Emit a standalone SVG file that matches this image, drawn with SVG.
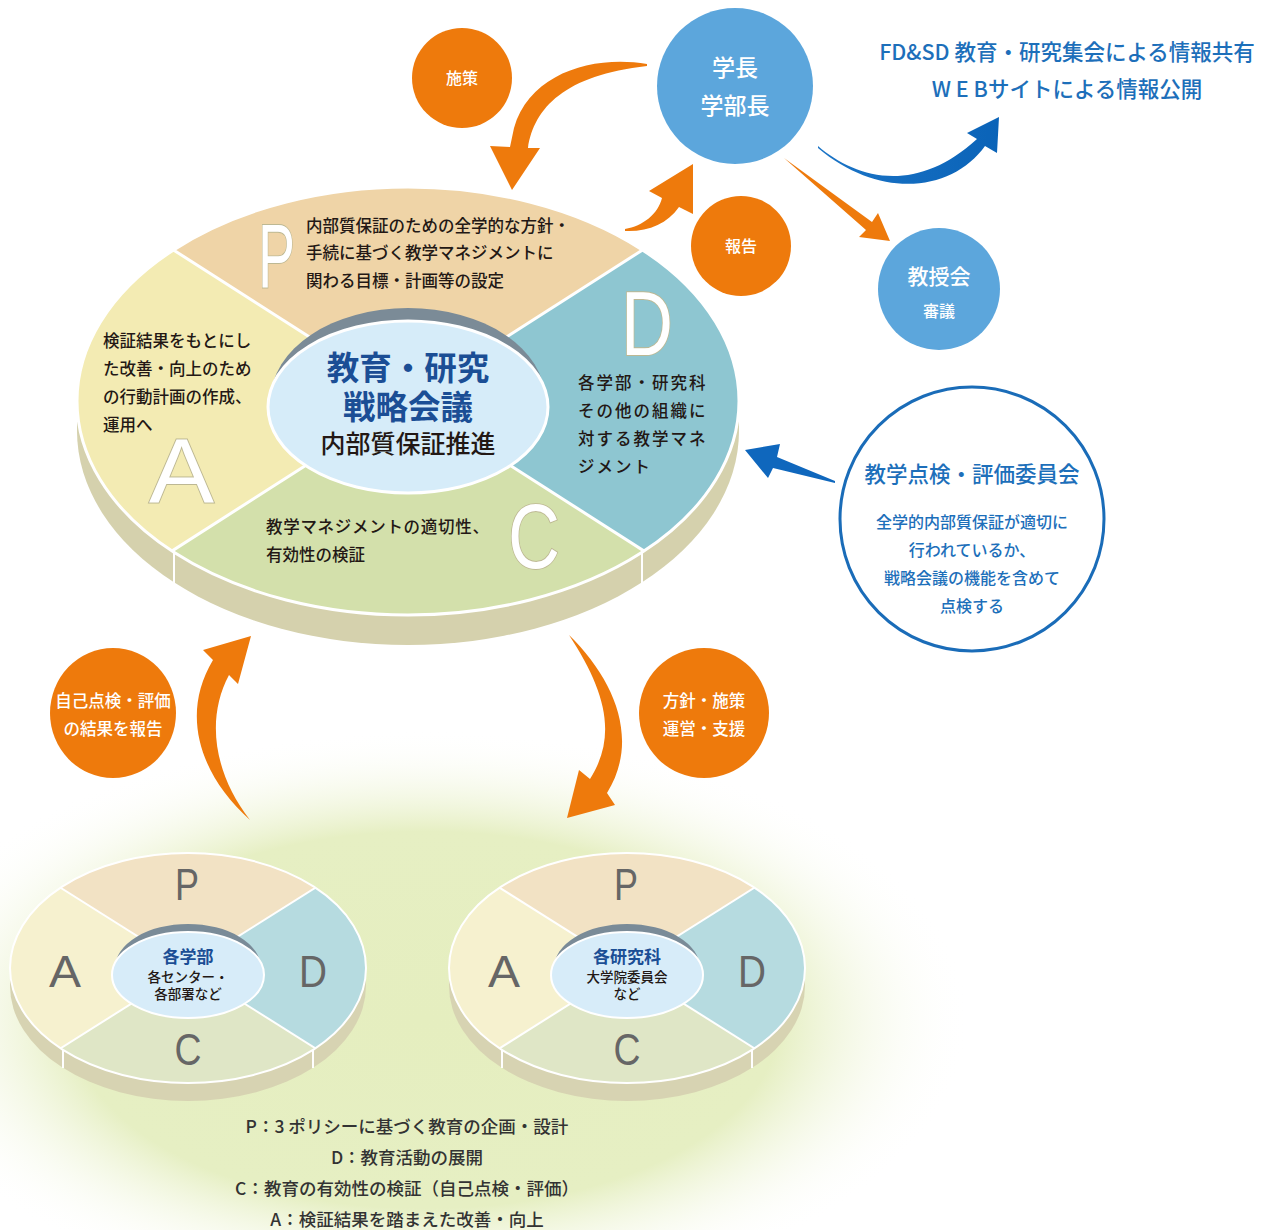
<svg xmlns="http://www.w3.org/2000/svg" width="1276" height="1230" viewBox="0 0 1276 1230">
<defs>
<style>
.jp{font-family:"Noto Sans CJK JP","Noto Sans",sans-serif;}
.lat{font-family:"Liberation Sans","DejaVu Sans",sans-serif;}
.dk{fill:#231815;font-size:16.5px;font-weight:500;}
.wt{fill:#ffffff;font-weight:500;}
.bl{fill:#1d6fba;font-weight:500;}
.orange{fill:#ee7a0c;}
.bigL{fill:#ffffff;stroke:#bdb893;stroke-width:1.8;paint-order:stroke;font-size:90px;}
.smL{fill:#666666;font-size:44px;}
.div{stroke:#ffffff;stroke-width:3;}
.divs{stroke:#ffffff;stroke-width:2;}
</style>
<radialGradient id="glow" cx="0.5" cy="0.5" r="0.5">
<stop offset="0" stop-color="#e5eebf"/>
<stop offset="0.65" stop-color="#e6efc3"/>
<stop offset="1" stop-color="#ffffff" stop-opacity="0"/>
</radialGradient>
<linearGradient id="blueArr" x1="0" y1="0" x2="1" y2="0">
<stop offset="0" stop-color="#1b74c6"/>
<stop offset="1" stop-color="#0a63b8"/>
</linearGradient>
<clipPath id="mainClip"><ellipse cx="408" cy="401" rx="331" ry="214"/></clipPath>
<clipPath id="smClip"><ellipse cx="0" cy="0" rx="178" ry="115"/></clipPath>
<g id="smallDisc">
<rect x="-178" y="0" width="356" height="18" fill="#d7d3b2"/>
<ellipse cx="0" cy="18" rx="178" ry="115" fill="#d7d3b2"/>
<g clip-path="url(#smClip)">
<polygon points="0,0 -200,-126 -200,-130 200,-130 200,-126" fill="#f2e2c4"/>
<polygon points="0,0 200,-126 200,126" fill="#b6dbe0"/>
<polygon points="0,0 200,126 200,130 -200,130 -200,126" fill="#dfe6c6"/>
<polygon points="0,0 -200,-126 -200,126" fill="#f6f1cf"/>
<line x1="-200" y1="-126" x2="200" y2="126" class="divs"/>
<line x1="-200" y1="126" x2="200" y2="-126" class="divs"/>
</g>
<ellipse cx="0" cy="0" rx="178" ry="115" fill="none" stroke="#ffffff" stroke-width="2"/>
<line x1="-125" y1="82" x2="-125" y2="100" class="divs"/>
<line x1="125" y1="82" x2="125" y2="100" class="divs"/>
<ellipse cx="0" cy="0" rx="73" ry="44" fill="#7a8b98"/>
<ellipse cx="0" cy="7" rx="76" ry="43" fill="#d7ecf9" stroke="#ffffff" stroke-width="2"/>
<text class="lat smL" x="-1" y="-68" text-anchor="middle" textLength="24" lengthAdjust="spacingAndGlyphs">P</text>
<text class="lat smL" x="-123" y="19" text-anchor="middle" textLength="32" lengthAdjust="spacingAndGlyphs">A</text>
<text class="lat smL" x="125" y="19" text-anchor="middle" textLength="28" lengthAdjust="spacingAndGlyphs">D</text>
<text class="lat smL" x="0" y="97" text-anchor="middle" textLength="27" lengthAdjust="spacingAndGlyphs">C</text>
</g>
</defs>

<rect width="1276" height="1230" fill="#ffffff"/>

<!-- background glow -->
<ellipse cx="425" cy="1020" rx="545" ry="290" fill="url(#glow)"/>

<!-- main disc -->
<g id="main-disc">
<rect x="77" y="401" width="662" height="30" fill="#d5d1ad"/>
<ellipse cx="408" cy="431" rx="331" ry="214" fill="#d5d1ad"/>
<g clip-path="url(#mainClip)">
<polygon points="408,400 0,139 0,0 816,0 816,139" fill="#efd4a7"/>
<polygon points="408,400 816,139 816,661" fill="#8ec6d1"/>
<polygon points="408,400 816,661 816,700 0,700 0,661" fill="#d3e0ab"/>
<polygon points="408,400 0,139 0,661" fill="#f3ebb3"/>
<line x1="0" y1="139" x2="816" y2="661" class="div"/>
<line x1="0" y1="661" x2="816" y2="139" class="div"/>
</g>
<ellipse cx="408" cy="401" rx="331" ry="214" fill="none" stroke="#ffffff" stroke-width="3"/>
<line x1="174" y1="551" x2="174" y2="584" class="divs"/>
<line x1="642" y1="551" x2="642" y2="584" class="divs"/>
<ellipse cx="408" cy="399" rx="137" ry="91" fill="#7b8b97"/>
<ellipse cx="408" cy="407" rx="140" ry="86" fill="#d6ecf9" stroke="#ffffff" stroke-width="3"/>
<text class="lat bigL" x="258" y="287" textLength="37" lengthAdjust="spacingAndGlyphs">P</text>
<text class="lat bigL" x="621" y="355" textLength="52" lengthAdjust="spacingAndGlyphs">D</text>
<text class="lat bigL" x="149" y="502" textLength="65" lengthAdjust="spacingAndGlyphs">A</text>
<text class="lat bigL" x="508" y="568" textLength="52" lengthAdjust="spacingAndGlyphs">C</text>
<g class="jp dk">
<text x="306" y="232">内部質保証のための全学的な方針・</text>
<text x="306" y="259">手続に基づく教学マネジメントに</text>
<text x="306" y="287">関わる目標・計画等の設定</text>
<text x="103" y="347">検証結果をもとにし</text>
<text x="103" y="375">た改善・向上のため</text>
<text x="103" y="403">の行動計画の作成、</text>
<text x="103" y="431">運用へ</text>
<text x="578" y="389" letter-spacing="2">各学部・研究科</text>
<text x="578" y="417" letter-spacing="2">その他の組織に</text>
<text x="578" y="445" letter-spacing="2">対する教学マネ</text>
<text x="578" y="473" letter-spacing="2">ジメント</text>
<text x="266" y="533" letter-spacing="0.7">教学マネジメントの適切性、</text>
<text x="266" y="561">有効性の検証</text>
</g>
<text class="jp" x="408" y="380" text-anchor="middle" font-size="32.5" font-weight="700" fill="#1b4e95">教育・研究</text>
<text class="jp" x="408" y="419" text-anchor="middle" font-size="32.5" font-weight="700" fill="#1b4e95">戦略会議</text>
<text class="jp" x="408" y="453" text-anchor="middle" font-size="25" font-weight="500" fill="#231815">内部質保証推進</text>
</g>

<!-- nodes -->
<g id="node-shisaku">
<circle cx="462" cy="78" r="50" class="orange"/>
<text class="jp wt" x="462" y="84" text-anchor="middle" font-size="16">施策</text>
</g>
<g id="node-gakucho">
<circle cx="735" cy="86" r="78" fill="#5ca6dc"/>
<text class="jp wt" x="735" y="76" text-anchor="middle" font-size="23">学長</text>
<text class="jp wt" x="735" y="114" text-anchor="middle" font-size="23">学部長</text>
</g>
<g id="node-houkoku">
<circle cx="741" cy="246" r="50" class="orange"/>
<text class="jp wt" x="741" y="252" text-anchor="middle" font-size="16">報告</text>
</g>
<g id="node-kyojukai">
<circle cx="939" cy="289" r="61" fill="#5ca6dc"/>
<text class="jp wt" x="939" y="284" text-anchor="middle" font-size="21">教授会</text>
<text class="jp wt" x="939" y="317" text-anchor="middle" font-size="16">審議</text>
</g>
<g id="node-info">
<text class="jp bl" x="1067" y="60" text-anchor="middle" font-size="21.5">FD&amp;SD 教育・研究集会による情報共有</text>
<text class="jp bl" x="1067" y="97" text-anchor="middle" font-size="21.5">W E Bサイトによる情報公開</text>
</g>
<g id="node-iinkai">
<circle cx="972" cy="519" r="132" fill="#ffffff" stroke="#1a6cb8" stroke-width="3"/>
<text class="jp bl" x="972" y="482" text-anchor="middle" font-size="21.5">教学点検・評価委員会</text>
<text class="jp bl" x="972" y="528" text-anchor="middle" font-size="16">全学的内部質保証が適切に</text>
<text class="jp bl" x="972" y="556" text-anchor="middle" font-size="16">行われているか、</text>
<text class="jp bl" x="972" y="584" text-anchor="middle" font-size="16">戦略会議の機能を含めて</text>
<text class="jp bl" x="972" y="612" text-anchor="middle" font-size="16">点検する</text>
</g>
<g id="node-jiko">
<ellipse cx="113" cy="713" rx="63" ry="65" class="orange"/>
<text class="jp wt" x="113" y="707" text-anchor="middle" font-size="16.5">自己点検・評価</text>
<text class="jp wt" x="113" y="735" text-anchor="middle" font-size="16.5">の結果を報告</text>
</g>
<g id="node-houshin">
<ellipse cx="704" cy="713" rx="65" ry="65" class="orange"/>
<text class="jp wt" x="704" y="707" text-anchor="middle" font-size="16.5">方針・施策</text>
<text class="jp wt" x="704" y="735" text-anchor="middle" font-size="16.5">運営・支援</text>
</g>

<!-- small discs -->
<g id="disc-gakubu">
<use href="#smallDisc" x="188" y="968"/>
<text class="jp" x="188" y="963" text-anchor="middle" font-size="17" font-weight="700" fill="#1b4e95">各学部</text>
<text class="jp" x="188" y="982" text-anchor="middle" font-size="13.5" font-weight="500" fill="#231815">各センター・</text>
<text class="jp" x="188" y="999" text-anchor="middle" font-size="13.5" font-weight="500" fill="#231815">各部署など</text>
</g>
<g id="disc-kenkyuka">
<use href="#smallDisc" x="627" y="968"/>
<text class="jp" x="627" y="963" text-anchor="middle" font-size="17" font-weight="700" fill="#1b4e95">各研究科</text>
<text class="jp" x="627" y="982" text-anchor="middle" font-size="13.5" font-weight="500" fill="#231815">大学院委員会</text>
<text class="jp" x="627" y="999" text-anchor="middle" font-size="13.5" font-weight="500" fill="#231815">など</text>
</g>

<!-- legend -->
<g id="legend" class="jp" fill="#333333" font-size="17.5" font-weight="500" text-anchor="middle">
<text x="407" y="1133">P：3 ポリシーに基づく教育の企画・設計</text>
<text x="407" y="1164">D：教育活動の展開</text>
<text x="407" y="1195">C：教育の有効性の検証（自己点検・評価）</text>
<text x="407" y="1226">A：検証結果を踏まえた改善・向上</text>
</g>

<!-- connectors -->
<g id="connectors">
<path class="orange" d="M647,64 C595,55 530,72 514,128 L510,147 L490,146 L512,190 L540,148 L528,148 C534,108 565,75 647,66 Z"/>
<path class="orange" d="M625,229 C643,226 658,214 662,198 L649,191 L693,164 L693,214 L679,207 C667,224 648,232 625,231 Z"/>
<path class="orange" d="M784,158 L872,222 L878,213 L890,241 L859,237 L866,230 Z"/>
<path fill="url(#blueArr)" d="M818,146 C855,178 915,196 977,139 L967,133 L999,117 L997,153 L985,146 C952,192 880,200 818,148 Z"/>
<path fill="#0f67bd" d="M745,450 L780,444 L777,457 L835,481 L835,483 L773,468 L768,478 Z"/>
<path class="orange" d="M250,820 C200,775 180,715 213,660 L203,650 L251,636 L238,684 L229,675 C205,720 215,775 250,820 Z"/>
<path class="orange" d="M569,635 C615,680 640,740 607,793 L615,805 L567,818 L579,770 L590,779 C618,735 605,690 569,635 Z"/>
</g>
</svg>
